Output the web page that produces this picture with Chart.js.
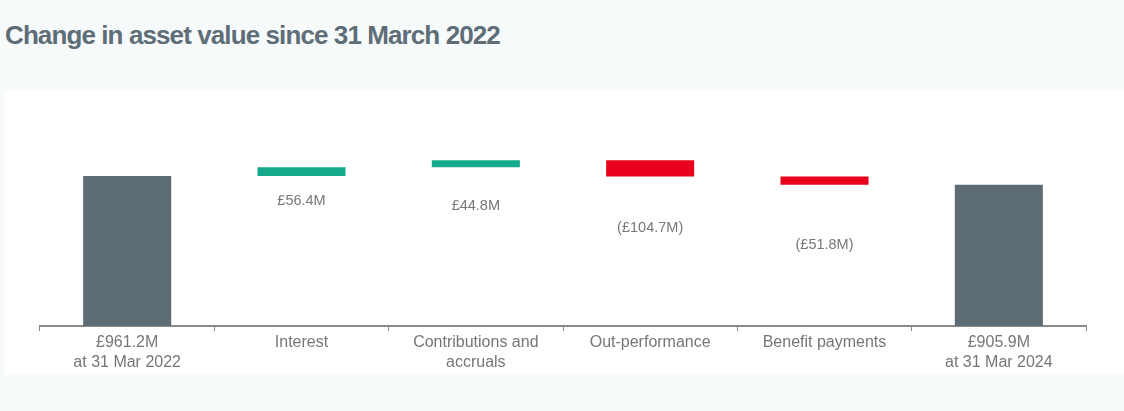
<!DOCTYPE html>
<html>
<head>
<meta charset="utf-8">
<script src="https://cdn.jsdelivr.net/npm/chart.js@4/dist/chart.umd.min.js"></script>
<style>
    html, body { margin: 0; padding: 0; }
    body { width: 1124px; height: 411px; background: #f6fafb; position: relative; overflow: hidden;
           font-family: "Liberation Sans", Arial, sans-serif; }
    #title { position: absolute; left: 5px; top: 20px; font-size: 26px; font-weight: bold; color: #5e6d77;
             letter-spacing: -0.9px; white-space: nowrap; }
    #divChartAsset { position: absolute; left: 4px; top: 90px; width: 1120px; height: 285px; background: #fff; }
</style>
</head>
<body>
<div id="title">Change in asset value since 31 March 2022</div>
<div id="divChartAsset"><canvas id="chartAsset" width="1120" height="285"></canvas></div>
<script>
// values in £M
var startValue = 961.2;
var endValue = 905.9;
var stepNames = ['Interest', ['Contributions and', 'accruals'], 'Out-performance', 'Benefit payments'];
var stepValues = [56.4, 44.8, -104.7, -51.8];
var startLabel = 'at 31 Mar 2022';
var endLabel = 'at 31 Mar 2024';

function fmtM(v) {
    var s = '£' + Math.abs(v).toFixed(1) + 'M';
    return v < 0 ? '(' + s + ')' : s;
}

// build the floating bars
var mylabels = [[fmtM(startValue), startLabel]];
var barData = [[0, startValue]];
var barColors = ['#5d6b75'];
var running = startValue;
stepValues.forEach(function(v, i) {
    mylabels.push(stepNames[i]);
    barData.push([running, running + v]);
    barColors.push(v >= 0 ? '#14a98a' : '#e8001c');
    running += v;
});
mylabels.push([fmtM(endValue), endLabel]);
barData.push([0, endValue]);
barColors.push('#5d6b75');

// label gap below each step bar (px)
var labelGap = [25, 39, 51, 60];

var stepLabelPlugin = {
    id: 'stepLabels',
    afterDatasetsDraw: function(chart) {
        var c = chart.ctx;
        var meta = chart.getDatasetMeta(0);
        c.save();
        c.font = '14.5px "Liberation Sans", Arial, sans-serif';
        c.fillStyle = '#777777';
        c.textAlign = 'center';
        c.textBaseline = 'middle';
        stepValues.forEach(function(v, i) {
            var bar = meta.data[i + 1];
            var bottom = Math.max(bar.y, bar.base);
            c.fillText(fmtM(v), bar.x, bottom + labelGap[i]);
        });
        c.restore();
    }
};

var ctx = document.getElementById('chartAsset');
var myChartAsset = new Chart(ctx, {
    type: 'bar',
    data: {
        labels: mylabels,
        datasets: [{
            data: barData,
            backgroundColor: barColors,
            borderWidth: 0,
            borderSkipped: false,
            categoryPercentage: 1,
            barPercentage: 0.505
        }]
    },
    options: {
        responsive: false,
        animation: false,
        layout: { padding: { left: 36, right: 38, top: 2, bottom: 0 } },
        plugins: {
            legend: { display: false },
            tooltip: { enabled: false }
        },
        scales: {
            x: {
                grid: {
                    drawOnChartArea: false,
                    drawTicks: true,
                    tickLength: 5,
                    color: '#8a8a8a',
                    lineWidth: 1
                },
                border: { color: '#8a8a8a', width: 2 },
                ticks: {
                    color: '#767676',
                    padding: 2,
                    maxRotation: 0,
                    font: { family: '"Liberation Sans", Arial, sans-serif', size: 16, lineHeight: 1.25 }
                }
            },
            y: {
                display: false,
                min: 0,
                max: 1500
            }
        }
    },
    plugins: [stepLabelPlugin]
});
</script>
</body>
</html>
